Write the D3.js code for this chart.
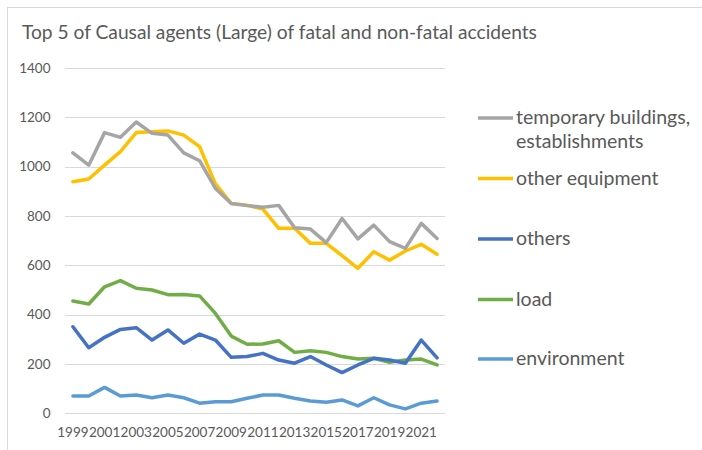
<!DOCTYPE html>
<html>
<head>
<meta charset="utf-8">
<script src="https://cdn.jsdelivr.net/npm/d3@7"></script>
<style>
  body { margin: 0; background: #fff; }
  text { font-family: Lato, "Noto Sans", sans-serif; fill: #595959; }
</style>
</head>
<body>
<svg id="chart" width="702" height="450"></svg>
<script>
const years = d3.range(1999, 2023);

const temporaryBuildings = [1056, 1006, 1138, 1119, 1181, 1135, 1128, 1056, 1024, 912, 851, 842, 835, 843, 752, 747, 692, 790, 707, 763, 696, 669, 770, 709];
const otherEquipment = [939, 950, 1006, 1061, 1138, 1142, 1145, 1128, 1081, 930, 851, 844, 828, 750, 750, 689, 689, 639, 588, 655, 621, 658, 685, 645];
const others = [351, 266, 308, 340, 347, 297, 338, 284, 321, 297, 227, 230, 243, 216, 203, 230, 196, 165, 196, 223, 216, 203, 297, 225];
const load = [455, 443, 513, 538, 507, 500, 481, 482, 476, 405, 313, 280, 281, 294, 247, 254, 247, 230, 220, 223, 207, 216, 220, 196];
const environment = [70, 70, 105, 70, 74, 63, 74, 63, 41, 47, 47, 61, 74, 74, 61, 50, 45, 54, 30, 63, 34, 18, 41, 50];

const seriesNames = ["temporary buildings, establishments", "other equipment", "others", "load", "environment"];
const seriesColors = ["#A5A5A5", "#FFC000", "#4472C4", "#70AD47", "#5B9BD5"];
const seriesValues = [temporaryBuildings, otherEquipment, others, load, environment];
const yTicks = [0, 200, 400, 600, 800, 1000, 1200, 1400];

const svg = d3.select("#chart");

// outer frame (runs off the right and bottom edges like the screenshot)
svg.append("rect")
  .attr("x", 7.5).attr("y", 7.5)
  .attr("width", 700).attr("height", 450)
  .attr("fill", "#fff")
  .attr("stroke", "#D9D9D9");

svg.append("text")
  .attr("x", 22).attr("y", 38.5)
  .style("font-size", "19.2px")
  .text("Top 5 of Causal agents (Large) of fatal and non-fatal accidents");

const x = d3.scaleBand().domain(years).range([65, 445]);
const y = d3.scaleLinear().domain([0, 1400]).range([413.3, 68]);

// gridlines
svg.append("g")
  .selectAll("line")
  .data(yTicks)
  .join("line")
  .attr("x1", 65).attr("x2", 445)
  .attr("y1", d => Math.round(y(d)) + 0.5)
  .attr("y2", d => Math.round(y(d)) + 0.5)
  .attr("stroke", "#D9D9D9")
  .attr("stroke-width", 1);

// y labels
const yAxis = svg.append("g")
  .attr("transform", "translate(50.5,0)")
  .call(d3.axisLeft(y).tickValues(yTicks).tickFormat(d3.format("d")).tickSize(0).tickPadding(0));
yAxis.select(".domain").remove();
yAxis.selectAll("text")
  .style("font-size", "13.5px")
  .attr("fill", "#595959");

// x labels
const xAxis = svg.append("g")
  .attr("transform", "translate(0,413)")
  .call(d3.axisBottom(x).tickValues(years.filter(d => (d - 1999) % 2 === 0)).tickSize(0).tickPadding(14));
xAxis.select(".domain").remove();
xAxis.selectAll("text")
  .style("font-size", "13.5px")
  .attr("fill", "#595959");

const line = d3.line()
  .x((d, i) => x(years[i]) + x.bandwidth() / 2)
  .y(d => y(d));

// draw from back to front like the reference (first series on top)
svg.append("g")
  .selectAll("path")
  .data(seriesValues.map((v, i) => ({ v, i })).reverse())
  .join("path")
  .attr("d", d => line(d.v))
  .attr("fill", "none")
  .attr("stroke", d => seriesColors[d.i])
  .attr("stroke-width", 3.5)
  .attr("stroke-linejoin", "round")
  .attr("stroke-linecap", "round");

// legend
const legendY = [118, 178.5, 239, 299.5, 359];
const legend = svg.append("g")
  .selectAll("g")
  .data(seriesNames)
  .join("g")
  .attr("transform", (d, i) => `translate(478,${legendY[i]})`);

legend.append("line")
  .attr("x1", 0).attr("x2", 35)
  .attr("stroke", (d, i) => seriesColors[i])
  .attr("stroke-width", 3.5);

legend.append("text")
  .attr("x", 38)
  .style("font-size", "19.5px")
  .each(function(d) {
    const parts = d === seriesNames[0] ? ["temporary buildings,", "establishments"] : [d];
    d3.select(this).selectAll("tspan")
      .data(parts)
      .join("tspan")
      .attr("x", 38)
      .attr("dy", (p, j) => j === 0 ? "0.33em" : "24px")
      .text(p => p);
  });
</script>
</body>
</html>
